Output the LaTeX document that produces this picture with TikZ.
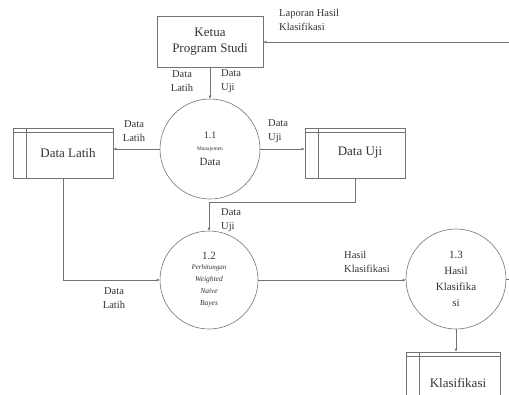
\documentclass[tikz,border=0pt]{standalone}
\usepackage{fontspec}
\setmainfont{Liberation Serif}
\newfontfamily\tms{Liberation Serif}
\usetikzlibrary{arrows.meta}
\begin{document}
\begin{tikzpicture}[x=1pt,y=-1pt,
  every node/.append style={font=\tms},
  ln/.style={draw=black!55, line width=0.6pt},
  flow/.style={ln, -{Latex[length=3pt,width=3pt]}},
  proc/.style={circle, draw=black!55, line width=0.6pt, minimum size=100pt, inner sep=0pt, align=center, text=black!80},
  ext/.style={draw=black!55, line width=0.6pt, align=center, text=black!80, font=\tms\fontsize{13}{16}\selectfont},
  store/.style={draw=black!55, line width=0.6pt, text=black!80, font=\tms\fontsize{13}{15}\selectfont,
    path picture={
      \draw[black!55, line width=0.6pt] ([xshift=13pt]path picture bounding box.north west) -- ([xshift=13pt]path picture bounding box.south west);
      \draw[black!55, line width=0.6pt] ([yshift=-4pt]path picture bounding box.north west) -- ([yshift=-4pt]path picture bounding box.north east);
    }},
  lbl/.style={font=\tms\fontsize{10.5}{14.5}\selectfont, inner sep=0pt, text=black!80},
]
\useasboundingbox (0,0) rectangle (509,394);
\clip (0,0) rectangle (509,394);

% external entity
\node[ext, minimum width=106pt, minimum height=51pt] (ketua) at (210,42) {Ketua\\Program Studi};

% processes
\node[proc] (p11) at (210,149) {{\fontsize{10}{11}\selectfont 1.1}\\[0pt]{\fontsize{5.5}{7}\selectfont Manajemen}\\[3pt]{\fontsize{11}{12}\selectfont Data}};
\node[proc, minimum size=98pt] (p12) at (209,280) {{\fontsize{11}{13}\selectfont 1.2}\\[-2pt]
  {\fontsize{7}{12}\selectfont\itshape Perhitungan}\\
  {\fontsize{7.5}{12}\selectfont\itshape Weighted}\\
  {\fontsize{7.5}{12}\selectfont\itshape Naive}\\
  {\fontsize{7.5}{12}\selectfont\itshape Bayes}};
\node[proc, font=\tms\fontsize{11}{16}\selectfont] (p13) at (456,279) {1.3\\Hasil\\Klasifika\\si};

% data stores
\node[store, minimum width=100pt, minimum height=50pt] (dlatih) at (63,153) {\hspace*{10pt}Data Latih};
\node[store, minimum width=100pt, minimum height=50pt] (duji) at (355,153) {\hspace*{10pt}Data Uji};
\node[store, minimum width=94pt, minimum height=62pt] (klas) at (453,383) {\hspace*{10pt}Klasifikasi};

% free ends
\coordinate (eTop) at (512,42);
\coordinate (e13) at (512,279);

% flows
\draw[flow] (eTop) -- (ketua.east);
\draw[flow] (ketua.south) -- (p11.north);
\draw[flow] (p11.west) -- (p11.west -| dlatih.east);
\draw[flow] (p11.east) -- (p11.east -| duji.west);
\draw[flow] (dlatih.south) |- (p12.west);
\draw[flow] (duji.south) -- ++(0,24) -| (p12.north);
\draw[flow] (p12.east) -- (p12.east -| p13.west);
\draw[flow] (p13.south) -- (p13.south |- klas.north);
\draw[ln] (p13.east) -- (e13);

% labels
\node[lbl, anchor=west, align=left] (lLap) at (279,20) {Laporan Hasil\\Klasifikasi};
\node[lbl, align=center] (lK1) at (182,81) {Data\\Latih};
\node[lbl, anchor=west, align=left] (lK2) at (221,81) {Data\\Uji};
\node[lbl, align=center] (lL1) at (134,131) {Data\\Latih};
\node[lbl, anchor=west, align=left] (lU1) at (268,131) {Data\\Uji};
\node[lbl, anchor=west, align=left] (lU2) at (221,220) {Data\\Uji};
\node[lbl, align=center] (lL2) at (114,298) {Data\\Latih};
\node[lbl, anchor=west, align=left] (lH) at (344,262) {Hasil\\Klasifikasi};
\end{tikzpicture}
\end{document}
